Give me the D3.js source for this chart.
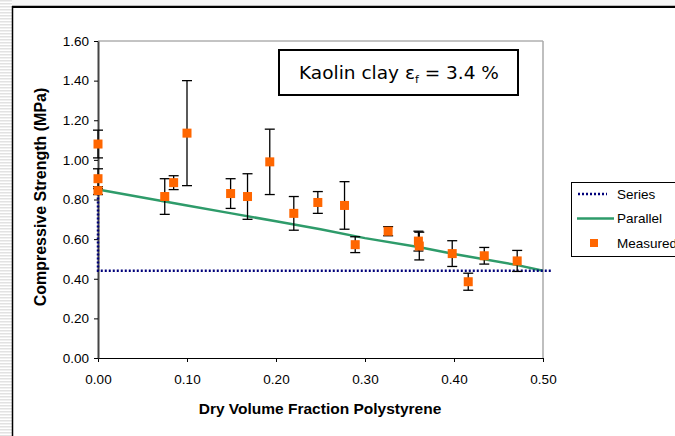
<!DOCTYPE html>
<html>
<head>
<meta charset="utf-8">
<title>Kaolin clay compressive strength</title>
<script src="https://cdn.jsdelivr.net/npm/d3@7"></script>
<style>
	body { margin: 0; background: #fff; }
	text { font-family: Arial, "Liberation Sans", sans-serif; fill: #000; }
</style>
</head>
<body>
<svg id="chart" width="675" height="436"></svg>
<script>
	// measured points: volume fraction, strength, error (+/-)
	var measuredX = [0, 0, 0, 0.075, 0.085, 0.100, 0.149, 0.168, 0.193, 0.220, 0.247, 0.277, 0.289, 0.326, 0.360, 0.361, 0.398, 0.416, 0.434, 0.471];
	var measuredY = [1.08, 0.905, 0.845, 0.815, 0.885, 1.135, 0.83, 0.815, 0.99, 0.73, 0.785, 0.77, 0.572, 0.64, 0.59, 0.565, 0.527, 0.385, 0.516, 0.49];
	var measuredErr = [0.07, 0.05, 0.02, 0.09, 0.035, 0.265, 0.075, 0.115, 0.165, 0.085, 0.055, 0.12, 0.04, 0.023, 0.05, 0.07, 0.065, 0.043, 0.042, 0.053];

	// model lines
	var parallelX = [0, 0.075, 0.1, 0.15, 0.2, 0.25, 0.3, 0.36, 0.4, 0.47, 0.5];
	var parallelY = [0.85, 0.79, 0.77, 0.73, 0.69, 0.65, 0.605, 0.56, 0.525, 0.47, 0.44];
	var seriesX = [0, 0, 0.51];
	var seriesY = [0.85, 0.44, 0.44];

	var xTicks = [0, 0.1, 0.2, 0.3, 0.4, 0.5];
	var yTicks = [0, 0.2, 0.4, 0.6, 0.8, 1.0, 1.2, 1.4, 1.6];
	var legendNames = ['Series', 'Parallel', 'Measured'];

	var svg = d3.select('#chart');

	// striped strip on the far left
	for (var s = 0; s < 436; s += 3) {
		svg.append('rect').attr('x', 0).attr('y', s).attr('width', 12).attr('height', 1.5).attr('fill', '#e2e2e2');
	}
	svg.append('rect').attr('x', 12).attr('y', 0).attr('width', 663).attr('height', 5).attr('fill', '#f6f6f6');
	svg.append('line').attr('x1', 12).attr('x2', 675).attr('y1', 5.5).attr('y2', 5.5).attr('stroke', '#bbb');
	svg.append('line').attr('x1', 12).attr('x2', 675).attr('y1', 7).attr('y2', 7).attr('stroke', '#000').attr('stroke-width', 2);
	svg.append('line').attr('x1', 12.5).attr('x2', 12.5).attr('y1', 6).attr('y2', 436).attr('stroke', '#000').attr('stroke-width', 1.5);

	var x = d3.scaleLinear().domain([0, 0.5]).range([98, 543]);
	var y = d3.scaleLinear().domain([0, 1.6]).range([358, 41]);

	// plot frame
	svg.append('line').attr('x1', x(0)).attr('x2', x(0.5)).attr('y1', y(1.6)).attr('y2', y(1.6)).attr('stroke', '#888');
	svg.append('line').attr('x1', x(0.5)).attr('x2', x(0.5)).attr('y1', y(1.6)).attr('y2', y(0)).attr('stroke', '#aaa').attr('stroke-width', 1.5);

	var xAxis = svg.append('g').attr('transform', 'translate(0,' + y(0) + ')')
		.call(d3.axisBottom(x).tickValues(xTicks).tickFormat(d3.format('.2f')).tickSizeInner(4).tickSizeOuter(0));
	var yAxis = svg.append('g').attr('transform', 'translate(' + x(0) + ',0)')
		.call(d3.axisLeft(y).tickValues(yTicks).tickFormat(d3.format('.2f')).tickSizeInner(4).tickSizeOuter(0));
	[xAxis, yAxis].forEach(function (a) {
		a.select('.domain').attr('stroke', '#000');
		a.selectAll('.tick line').attr('stroke', '#000');
		a.selectAll('text').style('font-size', '13.5px').attr('fill', '#222');
	});
	xAxis.selectAll('text').attr('y', 16);
	yAxis.selectAll('text').attr('x', -9);
	yAxis.select('.domain').attr('stroke', '#444').attr('stroke-width', 2);

	svg.append('text').attr('x', 320).attr('y', 414).attr('text-anchor', 'middle')
		.style('font-size', '15.5px').style('font-weight', 'bold').text('Dry Volume Fraction Polystyrene');
	svg.append('text').attr('transform', 'translate(46,197) rotate(-90)').attr('text-anchor', 'middle')
		.style('font-size', '16px').style('font-weight', 'bold').text('Compressive Strength (MPa)');

	var line = d3.line().x(function (d) { return x(d[0]); }).y(function (d) { return y(d[1]); });

	svg.append('path').datum(d3.zip(parallelX, parallelY)).attr('d', line)
		.attr('fill', 'none').attr('stroke', '#2e9b6a').attr('stroke-width', 2.5);
	svg.append('path').datum(d3.zip(seriesX, seriesY)).attr('d', line)
		.attr('fill', 'none').attr('stroke', '#00007a').attr('stroke-width', 2.5).attr('stroke-dasharray', '2,2');

	var pts = d3.zip(measuredX, measuredY, measuredErr);
	var err = svg.append('g').attr('stroke', '#000').attr('stroke-width', 1.3);
	pts.forEach(function (d) {
		err.append('line').attr('x1', x(d[0])).attr('x2', x(d[0])).attr('y1', y(d[1] - d[2])).attr('y2', y(d[1] + d[2]));
		[d[1] - d[2], d[1] + d[2]].forEach(function (v) {
			err.append('line').attr('x1', x(d[0]) - 5).attr('x2', x(d[0]) + 5).attr('y1', y(v)).attr('y2', y(v));
		});
	});
	svg.append('g').selectAll('rect').data(pts).join('rect')
		.attr('x', function (d) { return x(d[0]) - 4.5; })
		.attr('y', function (d) { return y(d[1]) - 4.5; })
		.attr('width', 9).attr('height', 9).attr('fill', '#ff6600');

	// annotation box
	svg.append('rect').attr('x', 279).attr('y', 50).attr('width', 239).attr('height', 45)
		.attr('fill', '#fff').attr('stroke', '#000').attr('stroke-width', 2);
	var note = svg.append('text').attr('x', 399).attr('y', 79).attr('text-anchor', 'middle')
		.style('font-family', '"DejaVu Sans", Verdana, sans-serif').style('font-size', '18.5px');
	note.append('tspan').text('Kaolin clay ε');
	note.append('tspan').attr('dy', 4).style('font-size', '11px').text('f');
	note.append('tspan').attr('dy', -4).text(' = 3.4 %');

	// legend
	svg.append('rect').attr('x', 571.5).attr('y', 182.5).attr('width', 120).attr('height', 74)
		.attr('fill', '#fff').attr('stroke', '#000');
	var lg = svg.append('g').selectAll('g').data(legendNames).join('g')
		.attr('transform', function (d, i) { return 'translate(0,' + (194 + i * 24.5) + ')'; });
	lg.append('text').attr('x', 617).attr('dy', '0.35em').style('font-size', '13.5px').text(function (d) { return d; });
	lg.filter(function (d) { return d === 'Series'; }).append('line')
		.attr('x1', 578).attr('x2', 607).attr('stroke', '#00007a').attr('stroke-width', 2.5).attr('stroke-dasharray', '2,2');
	lg.filter(function (d) { return d === 'Parallel'; }).append('line')
		.attr('x1', 577).attr('x2', 614).attr('stroke', '#2e9b6a').attr('stroke-width', 2.5);
	lg.filter(function (d) { return d === 'Measured'; }).append('rect')
		.attr('x', 590).attr('y', -4).attr('width', 8).attr('height', 8).attr('fill', '#ff6600');
</script>
</body>
</html>
